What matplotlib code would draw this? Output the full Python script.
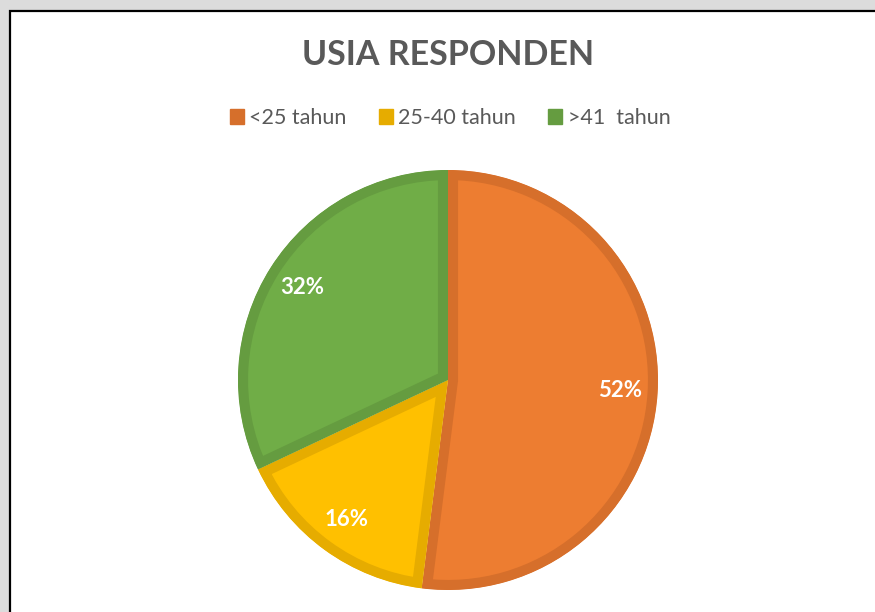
import matplotlib.pyplot as plt
from matplotlib.patches import Rectangle, Patch

# data
kategori = ['<25 tahun', '25-40 tahun', '>41  tahun']
persen = [52, 16, 32]

warna_isi = ['#ED7D31', '#FFC000', '#70AD47']
warna_tepi = ['#D66F2B', '#E6AC00', '#659C40']

W, H = 875, 612
fig = plt.figure(figsize=(W / 100, H / 100), dpi=100, facecolor='#DCDCDC')
plt.rcParams['font.family'] = ['Lato', 'DejaVu Sans']

# area putih dengan garis tepi hitam (atas dan kiri)
fig.patches.append(Rectangle((10 / W, -0.05), 1.1, 1.05 - 10.5 / H,
                             transform=fig.transFigure, facecolor='white',
                             edgecolor='black', linewidth=1.6, zorder=-1))

# pie, pusat (448, 380) px, jari-jari 210 px
r = 210
ax = fig.add_axes([(448 - r) / W, (H - 380 - r) / H, 2 * r / W, 2 * r / H])
ax.set_zorder(1)
wedges, teks, pct = ax.pie(persen, colors=warna_isi, startangle=90,
                           counterclock=False, radius=1,
                           autopct='%1.0f%%', pctdistance=0.82,
                           textprops=dict(color='white', fontsize=16,
                                          fontweight='bold'))
ax.set_xlim(-1, 1)
ax.set_ylim(-1, 1)
ax.set_aspect('equal')
ax.axis('off')

# garis tepi di dalam tiap irisan (stroke dipotong oleh bentuk irisannya)
for w, c in zip(wedges, warna_tepi):
    w.set_edgecolor(c)
    w.set_linewidth(14.5)
    w.set_clip_on(True)
    w.set_clip_path(w.get_path(), ax.transData)

fig.text(448 / W, 1 - 55 / H, 'USIA RESPONDEN', ha='center', va='center',
         fontsize=24.5, fontweight='bold', color='#595959')

handles = [Patch(facecolor=c, edgecolor=c) for c in warna_tepi]
fig.legend(handles, kategori, loc='center', bbox_to_anchor=(450 / W, 1 - 118 / H),
           ncol=3, frameon=False, fontsize=15.5, labelcolor='#595959',
           handlelength=0.65, handleheight=0.65, handletextpad=0.25,
           columnspacing=1.5)

fig.savefig('out.png', dpi=100, facecolor=fig.get_facecolor())
